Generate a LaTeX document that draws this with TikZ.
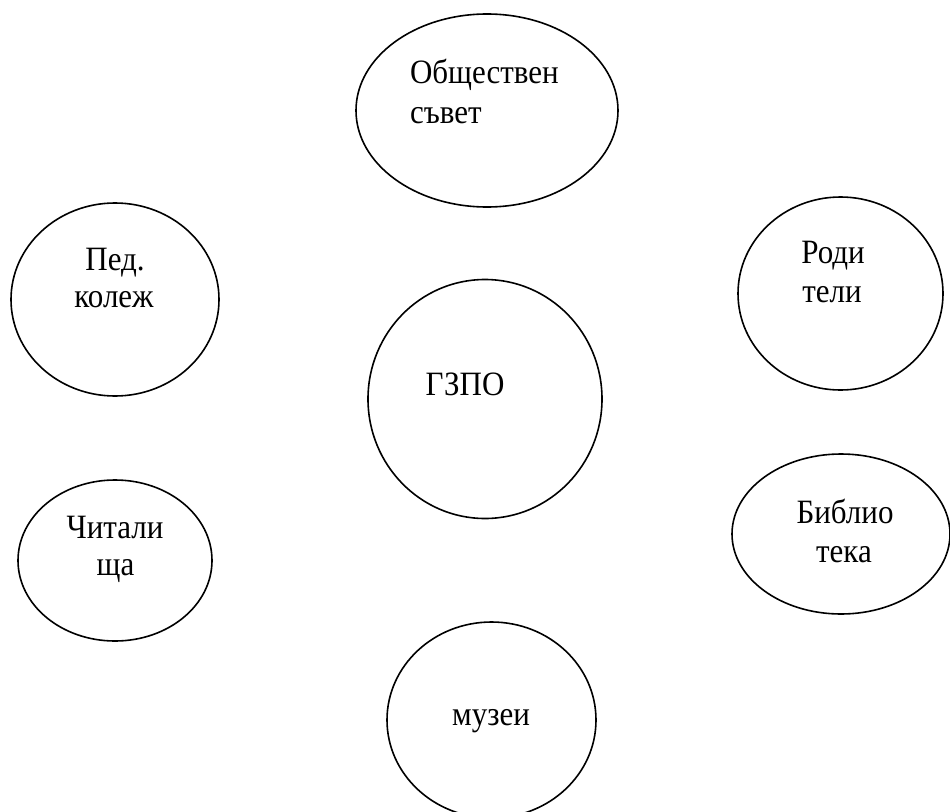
\documentclass[tikz,border=0pt]{standalone}
\usepackage{fontspec}
\usepackage{graphicx}
\setmainfont{Liberation Serif}
\usetikzlibrary{shapes.geometric}
\newcommand{\stx}[1]{\scalebox{1}[1.1]{#1}}
\tikzset{
  oval/.style={draw=black, line width=1.6pt, ellipse, inner sep=0pt, outer sep=0pt},
  lbl/.style={font=\fontsize{31}{38}\selectfont, inner sep=0pt, outer sep=0pt, text=black}
}
\begin{document}
\begin{tikzpicture}[x=1pt,y=-1pt]
\useasboundingbox (0,0) rectangle (950,811);
\clip (0,0) rectangle (950,811);
\fill[white] (0,0) rectangle (950,811);
% ellipses
\node[oval, minimum width=262pt, minimum height=193pt] (obs) at (487,110.5) {};
\node[oval, minimum width=208pt, minimum height=193pt] (ped) at (115,299.5) {};
\node[oval, minimum width=234pt, minimum height=239pt] (gzpo) at (485,399) {};
\node[oval, minimum width=205pt, minimum height=193pt] (rod) at (840.5,293.5) {};
\node[oval, minimum width=194pt, minimum height=161pt] (chit) at (115,560.5) {};
\node[oval, minimum width=218pt, minimum height=160pt] (bib) at (841,534) {};
\node[oval, minimum width=209pt, minimum height=196pt] (muz) at (491.5,720) {};
% texts
\node[lbl, anchor=base west] (obs1) at (410,83) {\stx{Обществен}};
\node[lbl, anchor=base west] (obs2) at (410,123) {\stx{съвет}};
\node[lbl, anchor=base] (ped1) at (115,270) {\stx{Пед.}};
\node[lbl, anchor=base] (ped2) at (114,307) {\stx{колеж}};
\node[lbl, anchor=base] (gzpo1) at (465,395) {\stx{ГЗПО}};
\node[lbl, anchor=base] (rod1) at (833,263) {\stx{Роди}};
\node[lbl, anchor=base] (rod2) at (832,302) {\stx{тели}};
\node[lbl, anchor=base] (chit1) at (115,538) {\stx{Читали}};
\node[lbl, anchor=base] (chit2) at (115.5,575) {\stx{ща}};
\node[lbl, anchor=base] (bib1) at (845,523) {\stx{Библио}};
\node[lbl, anchor=base] (bib2) at (844,562) {\stx{тека}};
\node[lbl, anchor=base] (muz1) at (491,725) {\stx{музеи}};
\end{tikzpicture}
\end{document}
